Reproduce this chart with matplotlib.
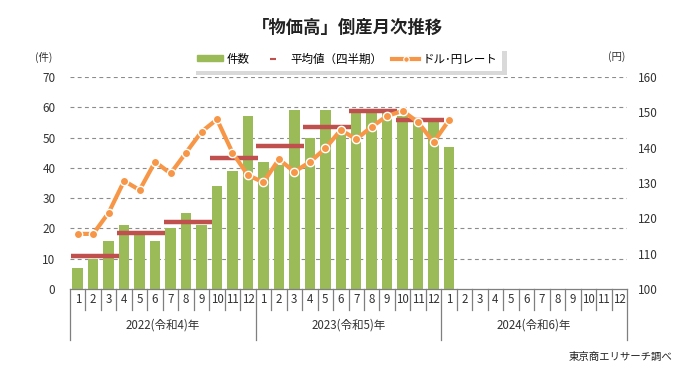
import matplotlib
matplotlib.use("Agg")
import matplotlib.pyplot as plt
import matplotlib.transforms as mtransforms
from matplotlib.patches import Rectangle
from matplotlib.lines import Line2D
import numpy as np

plt.rcParams['font.family'] = ['Noto Sans CJK JP', 'DejaVu Sans']

# ---- data ----
years = ["2022(令和4)年", "2023(令和5)年", "2024(令和6)年"]
month_labels = [str(m) for m in range(1, 13)] * 3
cases = [7, 10, 16, 21, 18, 16, 20, 25, 21, 34, 39, 57,
         42, 41, 59, 50, 59, 51, 58, 59, 59, 57, 55, 55,
         47]
usdjpy = [115.6, 115.6, 121.6, 130.6, 128.0, 136.0, 132.7, 138.6, 144.5, 148.0, 138.6, 132.2,
          130.2, 136.7, 133.2, 135.9, 139.8, 145.0, 142.4, 145.9, 149.0, 150.4, 147.2, 141.5,
          147.8]
left_ticks = [0, 10, 20, 30, 40, 50, 60, 70]
right_ticks = [100, 110, 120, 130, 140, 150, 160]

green = "#9BBB59"
red = "#C0504D"
orange = "#F79646"

fig = plt.figure(figsize=(6.95, 3.78), dpi=100)
W, H = 695, 378
ax = fig.add_axes([70 / W, 1 - 289 / H, (627 - 70) / W, (289 - 77) / H])
ax2 = ax.twinx()

n = len(month_labels)
x = np.arange(len(cases))
ax.bar(x, cases, width=0.68, color=green, zorder=2)

# quarterly averages
nq = len(cases) // 3
for q in range(nq):
    avg = np.mean(cases[q * 3:q * 3 + 3])
    ax.plot([q * 3 - 0.45, q * 3 + 2.65], [avg, avg], color=red, lw=3.2,
            solid_capstyle='butt', zorder=4)

ax2.plot(np.arange(len(usdjpy)), usdjpy, color=orange, lw=3, marker='o', ms=6,
         markerfacecolor=orange, markeredgecolor='white', markeredgewidth=1.0, zorder=5)

ax.set_xlim(-0.5, n - 0.5)
ax.set_ylim(0, 70)
ax2.set_ylim(100, 160)
ax.set_yticks(left_ticks)
ax2.set_yticks(right_ticks)
ax2.set_zorder(ax.get_zorder() + 1)
ax2.patch.set_visible(False)

for g in left_ticks[1:]:
    ax.axhline(g, color="#8c8c8c", lw=0.8, ls=(0, (3.5, 3)), zorder=1)

for a in (ax, ax2):
    for s in ("top", "left", "right", "bottom"):
        a.spines[s].set_visible(False)
    a.tick_params(axis='y', length=0, labelsize=8.5, colors="#333333")
ax.tick_params(axis='y', pad=10.5)
ax2.tick_params(axis='y', pad=8)
ax.spines["bottom"].set_visible(True)
ax.spines["bottom"].set_color("#7f7f7f")
ax.spines["bottom"].set_linewidth(0.9)

ax.set_xticks(range(n))
ax.set_xticklabels(month_labels, fontsize=8.3, color="#333333")
ax.tick_params(axis='x', length=0, pad=3)

trans = mtransforms.blended_transform_factory(ax.transData, ax.transAxes)
ax_h = (289 - 77)
month_low = -(310 - 289) / ax_h
year_low = -(340 - 289) / ax_h
for i in range(n + 1):
    b = i - 0.5
    low = year_low if i % 12 == 0 else month_low
    ax.plot([b, b], [0, low], transform=trans, color="#7f7f7f", lw=0.9, clip_on=False)
for k, yl in enumerate(years):
    ax.text(k * 12 + 5.5, -(325 - 289) / ax_h, yl, transform=trans, ha='center', va='center',
            fontsize=8.3, color="#333333")

# title & annotations
fig.text(0.5, 1 - 28 / H, "「物価高」倒産月次推移", ha='center', va='center', fontsize=12.5,
         fontweight='bold', color="#222222")
fig.text(44 / W, 1 - 57 / H, "(件)", ha='center', va='center', fontsize=7.5, color="#333333")
fig.text(617 / W, 1 - 57 / H, "(円)", ha='center', va='center', fontsize=7.5, color="#333333")
fig.text(672 / W, 1 - 357 / H, "東京商エリサーチ調べ", ha='right', va='center', fontsize=7.5, color="#222222")

handles = [Rectangle((0, 0), 1, 1, color=green),
           Line2D([], [], color=red, lw=0, marker='_', ms=5, mew=1.5),
           Line2D([], [], color=orange, lw=3, marker='o', ms=4, markerfacecolor=orange,
                  markeredgecolor='white', markeredgewidth=0.8)]
labels = ["件数", "平均値（四半期）", "ドル･円レート"]
leg = fig.legend(handles, labels, loc='center', bbox_to_anchor=(347 / W, 1 - 59 / H), ncol=3,
                 fontsize=8.3, frameon=True, shadow={'color': '#b5b5b5', 'ox': 3, 'oy': -3},
                 fancybox=False, handlelength=2.3,
                 handleheight=0.45, columnspacing=0.9, handletextpad=0.3, borderpad=0.45,
                 borderaxespad=0)
leg.get_frame().set_edgecolor("white")
leg.get_frame().set_linewidth(0)

fig.savefig("out.png", dpi=100)
